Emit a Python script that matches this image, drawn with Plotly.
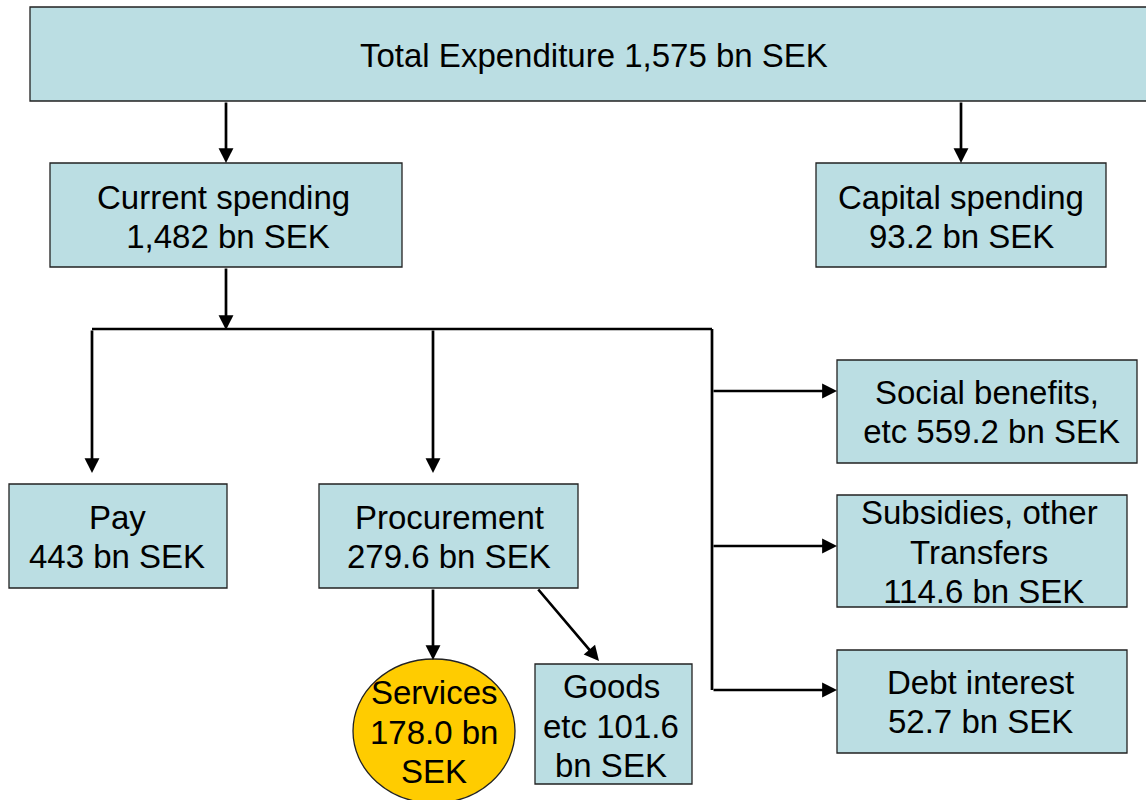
import plotly.graph_objects as go

# amounts in bn SEK, as printed on the diagram
node_names = ["Total", "Current", "Capital", "Pay", "Procurement",
              "Services", "Goods", "Social", "Subsidies", "Debt"]
node_values = ["1,575", "1,482", "93.2", "443", "279.6",
               "178.0", "101.6", "559.2", "114.6", "52.7"]
node_templates = [
    "Total Expenditure {v} bn SEK",
    "Current spending\n {v} bn SEK",
    "Capital spending\n{v} bn SEK",
    "Pay\n{v} bn SEK",
    "Procurement\n{v} bn SEK",
    "Services\n{v} bn\nSEK",
    "Goods\netc {v}\nbn SEK",
    "Social benefits,\n etc {v} bn SEK",
    "Subsidies, other\nTransfers\n {v} bn SEK",
    "Debt interest\n{v} bn SEK",
]

# --- layout (pixel space, y grows downward) ---
BOX_FILL = "#bbdee3"
HILITE_FILL = "#ffcc00"
FONT = dict(family="Liberation Sans, Arial, sans-serif", size=33, color="black")
LINE_GAP = 39.5

geom = {
    "Total":       dict(box=(30, 7, 1160, 101),   txt=(594, 55),  kind="rect"),
    "Current":     dict(box=(50, 163, 402, 267),  txt=(223, 217), kind="rect"),
    "Capital":     dict(box=(816, 163, 1106, 267), txt=(961, 217), kind="rect"),
    "Pay":         dict(box=(9, 484, 227, 588),   txt=(117, 537), kind="rect"),
    "Procurement": dict(box=(319, 484, 578, 588), txt=(449, 537), kind="rect"),
    "Services":    dict(box=(353, 659, 515, 803), txt=(434, 732), kind="circle"),
    "Goods":       dict(box=(535, 664, 692, 784), txt=(611, 726), kind="rect"),
    "Social":      dict(box=(837, 360, 1137, 463), txt=(987, 412), kind="rect"),
    "Subsidies":   dict(box=(837, 495, 1127, 607), txt=(979, 552), kind="rect"),
    "Debt":        dict(box=(837, 650, 1127, 753), txt=(980, 702), kind="rect"),
}

# arrows: tail -> tip
arrows = [
    ((226, 101), (226, 163)),
    ((961, 101), (961, 163)),
    ((226, 267), (226, 330)),
    ((92, 329), (92, 473)),
    ((433, 329), (433, 473)),
    ((433, 588), (433, 660)),
    ((537, 588), (599, 661)),
    ((712, 391), (837, 391)),
    ((712, 546), (837, 546)),
    ((712, 690), (837, 690)),
]
# plain connector lines
connectors = [((92, 329), (712, 329)), ((712, 329), (712, 690))]

fig = go.Figure()

for name, tpl, val in zip(node_names, node_templates, node_values):
    g = geom[name]
    x0, y0, x1, y1 = g["box"]
    fill = HILITE_FILL if g["kind"] == "circle" else BOX_FILL
    fig.add_shape(type=g["kind"], x0=x0, y0=y0, x1=x1, y1=y1,
                  fillcolor=fill, line=dict(color="#222222", width=1.3), layer="below")
    lines = tpl.format(v=val).split("\n")
    tx, ty = g["txt"]
    n = len(lines)
    for i, ln in enumerate(lines):
        fig.add_annotation(x=tx, y=ty + (i - (n - 1) / 2) * LINE_GAP, text=ln,
                           showarrow=False, font=FONT, xanchor="center", yanchor="middle")

for (ax, ay), (x1, y1) in connectors:
    fig.add_shape(type="line", x0=ax, y0=ay, x1=x1, y1=y1,
                  line=dict(color="black", width=2.7))

for (ax, ay), (x, y) in arrows:
    fig.add_annotation(x=x, y=y, ax=ax, ay=ay, axref="x", ayref="y", text="",
                       showarrow=True, arrowhead=2, arrowsize=1.1, arrowwidth=2.7,
                       arrowcolor="black", standoff=0, startstandoff=0)

fig.update_xaxes(range=[0, 1146], visible=False, showgrid=False, zeroline=False)
fig.update_yaxes(range=[800, 0], visible=False, showgrid=False, zeroline=False)
fig.update_layout(
    width=1146, height=800,
    margin=dict(l=0, r=0, t=0, b=0),
    plot_bgcolor="white", paper_bgcolor="white",
    showlegend=False,
)
# drop the default page margin so the diagram sits at the window origin
fig.write_html("out.html", config={"displayModeBar": False},
               post_script="document.body.style.margin='0px';")
